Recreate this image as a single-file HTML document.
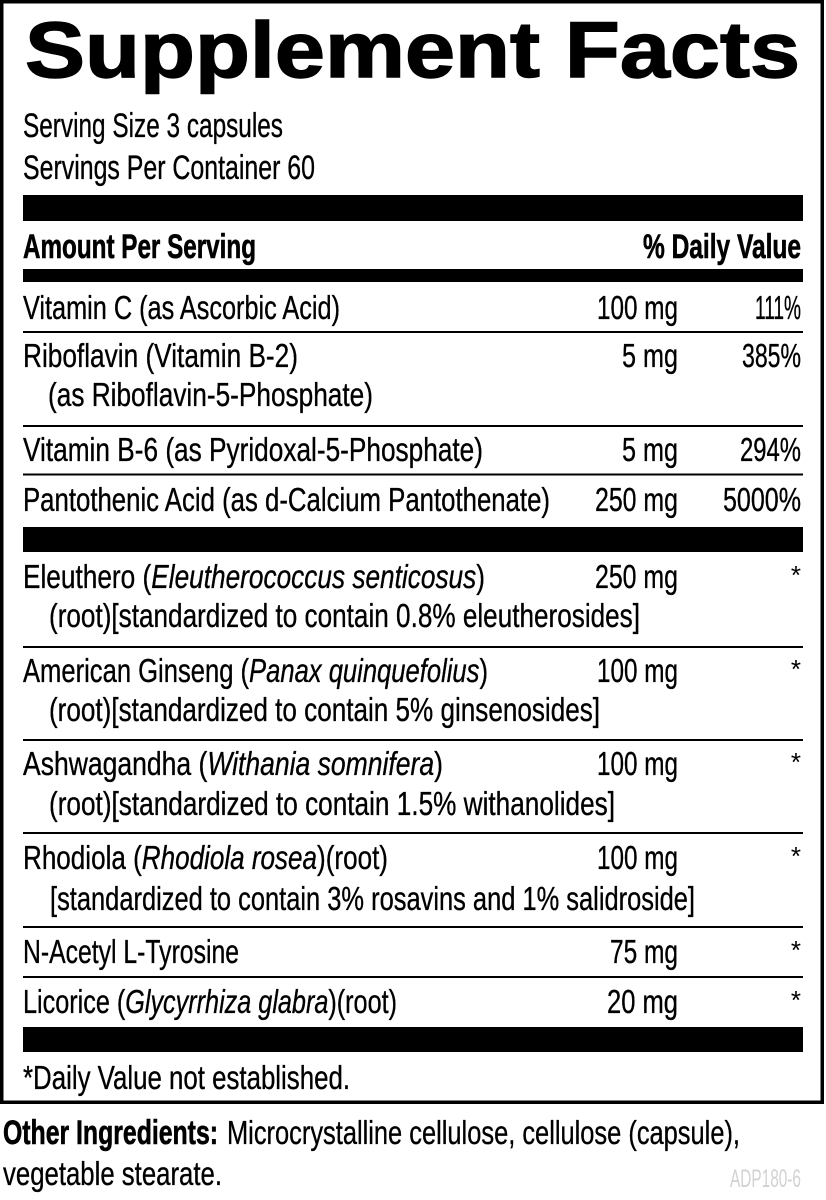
<!DOCTYPE html>
<html>
<head>
<meta charset="utf-8">
<style>
  html, body { margin: 0; padding: 0; background: #fff; }
  svg { display: block; }
  text { font-family: "Liberation Sans", sans-serif; fill: #000; }
  .r { font-size: 33px; stroke: #000; stroke-width: 0.35px; }
  .b { font-size: 34px; font-weight: bold; stroke: #000; stroke-width: 0.6px; }
  .it { font-style: italic; }
  .ast { font-size: 26px; }
</style>
</head>
<body>
<svg width="826" height="1200" viewBox="0 0 826 1200" xmlns="http://www.w3.org/2000/svg">
  <rect x="0" y="0" width="826" height="1200" fill="#fff"/>
  <rect x="1.75" y="1.75" width="820.5" height="1100.5" fill="none" stroke="#000" stroke-width="3.5"/>

  <text x="25" y="77" font-size="79" font-weight="bold" stroke="#000" stroke-width="1.4" textLength="775" lengthAdjust="spacingAndGlyphs">Supplement Facts</text>

  <text class="r" x="23" y="137" style="font-size:34px" textLength="260" lengthAdjust="spacingAndGlyphs">Serving Size 3 capsules</text>
  <text class="r" x="23" y="179" style="font-size:34px" textLength="292" lengthAdjust="spacingAndGlyphs">Servings Per Container 60</text>

  <rect x="23" y="195" width="780" height="26" fill="#000"/>
  <rect x="23" y="269" width="780" height="13" fill="#000"/>
  <rect x="23" y="527" width="780" height="25" fill="#000"/>
  <rect x="23" y="1027" width="780" height="25" fill="#000"/>

  <rect x="23" y="331" width="780" height="2" fill="#000"/>
  <rect x="23" y="425" width="780" height="2" fill="#000"/>
  <rect x="23" y="473.5" width="780" height="2" fill="#000"/>
  <rect x="23" y="646" width="780" height="2" fill="#000"/>
  <rect x="23" y="739" width="780" height="2" fill="#000"/>
  <rect x="23" y="832" width="780" height="2" fill="#000"/>
  <rect x="23" y="926" width="780" height="2" fill="#000"/>
  <rect x="23" y="976" width="780" height="2" fill="#000"/>

  <text class="b" x="23" y="258" textLength="233" lengthAdjust="spacingAndGlyphs">Amount Per Serving</text>
  <text class="b" x="801" y="258" text-anchor="end" textLength="158" lengthAdjust="spacingAndGlyphs">% Daily Value</text>

  <text class="r" x="23" y="319" textLength="317" lengthAdjust="spacingAndGlyphs">Vitamin C (as Ascorbic Acid)</text>
  <text class="r" x="678" y="319" text-anchor="end" textLength="81" lengthAdjust="spacingAndGlyphs">100 mg</text>
  <text class="r" x="801" y="319" text-anchor="end" textLength="46" lengthAdjust="spacingAndGlyphs">111%</text>

  <text class="r" x="23" y="367" textLength="275" lengthAdjust="spacingAndGlyphs">Riboflavin (Vitamin B-2)</text>
  <text class="r" x="48" y="406" textLength="325" lengthAdjust="spacingAndGlyphs">(as Riboflavin-5-Phosphate)</text>
  <text class="r" x="678" y="367" text-anchor="end" textLength="56" lengthAdjust="spacingAndGlyphs">5 mg</text>
  <text class="r" x="801" y="367" text-anchor="end" textLength="59" lengthAdjust="spacingAndGlyphs">385%</text>

  <text class="r" x="23" y="461" textLength="460" lengthAdjust="spacingAndGlyphs">Vitamin B-6 (as Pyridoxal-5-Phosphate)</text>
  <text class="r" x="678" y="461" text-anchor="end" textLength="56" lengthAdjust="spacingAndGlyphs">5 mg</text>
  <text class="r" x="801" y="461" text-anchor="end" textLength="61" lengthAdjust="spacingAndGlyphs">294%</text>

  <text class="r" x="23" y="511" textLength="527" lengthAdjust="spacingAndGlyphs">Pantothenic Acid (as d-Calcium Pantothenate)</text>
  <text class="r" x="678" y="511" text-anchor="end" textLength="83" lengthAdjust="spacingAndGlyphs">250 mg</text>
  <text class="r" x="801" y="511" text-anchor="end" textLength="78" lengthAdjust="spacingAndGlyphs">5000%</text>

  <text class="r" x="23" y="588" textLength="462" lengthAdjust="spacingAndGlyphs">Eleuthero (<tspan class="it">Eleutherococcus senticosus</tspan>)</text>
  <text class="r" x="49" y="627" textLength="591" lengthAdjust="spacingAndGlyphs">(root)[standardized to contain 0.8% eleutherosides]</text>
  <text class="r" x="678" y="588" text-anchor="end" textLength="83" lengthAdjust="spacingAndGlyphs">250 mg</text>
  <text class="ast" x="801" y="584" text-anchor="end">*</text>

  <text class="r" x="23" y="682" textLength="465" lengthAdjust="spacingAndGlyphs">American Ginseng (<tspan class="it">Panax quinquefolius</tspan>)</text>
  <text class="r" x="49" y="721" textLength="551" lengthAdjust="spacingAndGlyphs">(root)[standardized to contain 5% ginsenosides]</text>
  <text class="r" x="678" y="682" text-anchor="end" textLength="81" lengthAdjust="spacingAndGlyphs">100 mg</text>
  <text class="ast" x="801" y="678" text-anchor="end">*</text>

  <text class="r" x="23" y="775" textLength="420" lengthAdjust="spacingAndGlyphs">Ashwagandha (<tspan class="it">Withania somnifera</tspan>)</text>
  <text class="r" x="49" y="815" textLength="566" lengthAdjust="spacingAndGlyphs">(root)[standardized to contain 1.5% withanolides]</text>
  <text class="r" x="678" y="775" text-anchor="end" textLength="81" lengthAdjust="spacingAndGlyphs">100 mg</text>
  <text class="ast" x="801" y="771" text-anchor="end">*</text>

  <text class="r" x="23" y="869" textLength="365" lengthAdjust="spacingAndGlyphs">Rhodiola (<tspan class="it">Rhodiola rosea</tspan>)(root)</text>
  <text class="r" x="50" y="910" textLength="645" lengthAdjust="spacingAndGlyphs">[standardized to contain 3% rosavins and 1% salidroside]</text>
  <text class="r" x="678" y="869" text-anchor="end" textLength="81" lengthAdjust="spacingAndGlyphs">100 mg</text>
  <text class="ast" x="801" y="865" text-anchor="end">*</text>

  <text class="r" x="23" y="963" textLength="216" lengthAdjust="spacingAndGlyphs">N-Acetyl L-Tyrosine</text>
  <text class="r" x="678" y="963" text-anchor="end" textLength="68" lengthAdjust="spacingAndGlyphs">75 mg</text>
  <text class="ast" x="801" y="959" text-anchor="end">*</text>

  <text class="r" x="23" y="1013" textLength="374" lengthAdjust="spacingAndGlyphs">Licorice (<tspan class="it">Glycyrrhiza glabra</tspan>)(root)</text>
  <text class="r" x="678" y="1013" text-anchor="end" textLength="71" lengthAdjust="spacingAndGlyphs">20 mg</text>
  <text class="ast" x="801" y="1009" text-anchor="end">*</text>

  <text class="r" x="23" y="1089" textLength="327" lengthAdjust="spacingAndGlyphs">*Daily Value not established.</text>

  <text class="b" x="3" y="1144" textLength="215" lengthAdjust="spacingAndGlyphs">Other Ingredients:</text>
  <text class="r" x="227" y="1144" textLength="513" lengthAdjust="spacingAndGlyphs">Microcrystalline cellulose, cellulose (capsule),</text>
  <text class="r" x="3" y="1185" textLength="219" lengthAdjust="spacingAndGlyphs">vegetable stearate.</text>

  <text x="730" y="1187" font-size="25" style="fill:#d2d2d2" textLength="71" lengthAdjust="spacingAndGlyphs">ADP180-6</text>
</svg>
</body>
</html>
